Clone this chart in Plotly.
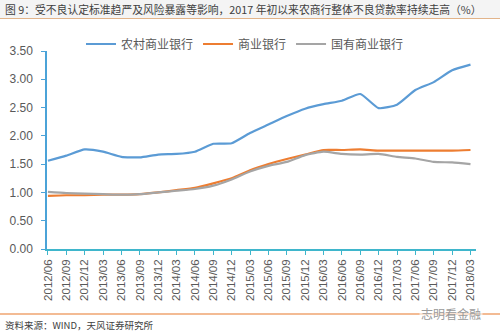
import plotly.graph_objects as go

dates = ["2012/06","2012/09","2012/12","2013/03","2013/06","2013/09","2013/12",
         "2014/03","2014/06","2014/09","2014/12","2015/03","2015/06","2015/09",
         "2015/12","2016/03","2016/06","2016/09","2016/12","2017/03","2017/06",
         "2017/09","2017/12","2018/03"]
rural = [1.56, 1.65, 1.76, 1.72, 1.63, 1.62, 1.67, 1.68, 1.72, 1.86, 1.87, 2.05,
         2.20, 2.35, 2.48, 2.56, 2.62, 2.74, 2.49, 2.55, 2.81, 2.95, 3.16, 3.26]
commercial = [0.94, 0.95, 0.95, 0.96, 0.96, 0.97, 1.00, 1.04, 1.08, 1.16, 1.25, 1.39,
              1.50, 1.59, 1.67, 1.75, 1.75, 1.76, 1.74, 1.74, 1.74, 1.74, 1.74, 1.75]
state = [1.01, 0.99, 0.98, 0.97, 0.96, 0.97, 1.00, 1.03, 1.06, 1.12, 1.23, 1.37,
         1.47, 1.54, 1.66, 1.72, 1.68, 1.67, 1.68, 1.63, 1.60, 1.54, 1.53, 1.50]
names = ["农村商业银行", "商业银行", "国有商业银行"]
colors = ["#5B9BD5", "#ED7D31", "#A5A5A5"]

title_text = "图 9：受不良认定标准趋严及风险暴露等影响，2017 年初以来农商行整体不良贷款率持续走高（%）"
source_text = "资料来源：WIND，天风证券研究所"
watermark = "志明看金融"

FONT = "Liberation Sans, Arial, Noto Sans CJK SC, sans-serif"

fig = go.Figure()
for name, ys, c in zip(names, [rural, commercial, state], colors):
    fig.add_trace(go.Scatter(
        x=list(range(len(dates))), y=ys, name=name, mode="lines",
        line=dict(color=c, width=2.2, shape="spline", smoothing=0.5),
    ))

fig.update_layout(
    width=500, height=333,
    margin=dict(l=47, r=24, t=51, b=84, autoexpand=False),
    paper_bgcolor="white", plot_bgcolor="white",
    font=dict(family=FONT, color="#595959", size=12),
    showlegend=True,
    legend=dict(orientation="h", xref="container", yref="container",
                x=0.162, y=1 - 44 / 333, xanchor="left", yanchor="middle",
                font=dict(size=12, color="#595959"), bgcolor="rgba(0,0,0,0)",
                itemwidth=30),
    xaxis=dict(
        tickmode="array", tickvals=list(range(len(dates))), ticktext=dates,
        range=[-0.05, 23.3], tickangle=-90, showgrid=False, zeroline=False,
        showline=True, linecolor="#3FB6CC", linewidth=1.5,
        ticks="outside", ticklen=4, tickcolor="#3FB6CC",
        tickfont=dict(size=11.5, color="#595959"), automargin=False,
    ),
    yaxis=dict(
        range=[0, 3.5], tickvals=[0, 0.5, 1, 1.5, 2, 2.5, 3, 3.5], tickformat=".2f",
        showgrid=False, zeroline=False, showline=True, linecolor="#4BA3D8",
        linewidth=1.5, ticks="outside", ticklen=4, tickcolor="#4BA3D8",
        tickfont=dict(size=12, color="#595959"), ticklabelstandoff=6, automargin=False,
    ),
)

# title strip
fig.add_shape(type="rect", xref="paper", yref="paper", x0=-47/429, x1=1 + 24/429,
              y0=1 + (51 - 18) / 198, y1=1 + 51 / 198, fillcolor="#F4F4F4",
              line=dict(width=0), layer="below")
fig.add_shape(type="line", xref="paper", yref="paper", x0=-47/429, x1=1 + 24/429,
              y0=1 + (51 - 18.5) / 198, y1=1 + (51 - 18.5) / 198,
              line=dict(color="#E2B48A", width=1.2))
fig.add_annotation(text=title_text, xref="paper", yref="paper",
                   x=-44/429, y=1 + (51 - 9) / 198, xanchor="left", yanchor="middle",
                   showarrow=False, font=dict(size=10.8, color="#404040",
                   family="Noto Sans CJK SC, sans-serif"))
# bottom line and source
fig.add_shape(type="line", xref="paper", yref="paper", x0=-47/429, x1=1 + 24/429,
              y0=-(314 - 249) / 198, y1=-(314 - 249) / 198,
              line=dict(color="#E8792B", width=1.2))
fig.add_annotation(text=source_text, xref="paper", yref="paper",
                   x=-44/429, y=-(325 - 249) / 198, xanchor="left", yanchor="middle",
                   showarrow=False, font=dict(size=9.5, color="#404040",
                   family="Noto Sans CJK SC, sans-serif"))
fig.add_annotation(text=watermark, xref="paper", yref="paper",
                   x=(483 - 47) / 429, y=-(313 - 249) / 198, xanchor="right", yanchor="middle",
                   showarrow=False, font=dict(size=12, color="#9A9A9A",
                   family="Noto Sans CJK SC, sans-serif"), bgcolor="rgba(255,255,255,0.6)")

fig.write_html("out.html")
